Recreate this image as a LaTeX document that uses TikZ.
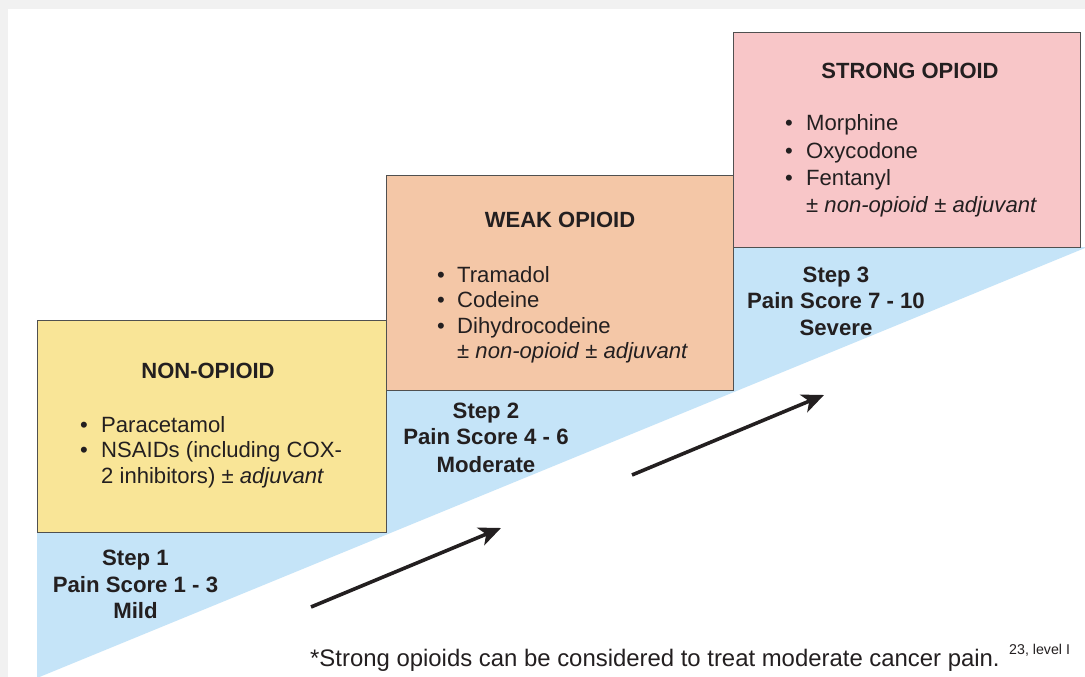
\documentclass[tikz,border=0pt]{standalone}
\usepackage{fontspec}
\setmainfont{Liberation Sans}
\usetikzlibrary{arrows.meta}
\definecolor{yelfill}{HTML}{F9E597}
\definecolor{peachfill}{HTML}{F4C7A7}
\definecolor{pinkfill}{HTML}{F8C6C8}
\definecolor{bluefill}{HTML}{C5E4F8}
\definecolor{boxline}{HTML}{505050}
\definecolor{txtc}{HTML}{231F20}
\definecolor{framegray}{HTML}{F1F1F1}
\begin{document}
\begin{tikzpicture}[x=1pt,y=-1pt,
  stepbox/.style={draw=boxline, line width=1.3pt, inner sep=0pt, anchor=north west},
  boxtitle/.style={font=\fontsize{22}{26}\selectfont\bfseries, text=txtc, inner sep=0pt, anchor=base},
  item/.style={font=\fontsize{22.1}{26}\selectfont, text=txtc, inner sep=0pt, anchor=base west},
  steplabel/.style={font=\fontsize{22.2}{26}\selectfont\bfseries, text=txtc, inner sep=0pt, anchor=base},
  bigarrow/.style={line width=3.6pt, txtc, -{Stealth[length=22pt,width=19pt,inset=6pt]}},
  note/.style={font=\fontsize{23.9}{28}\selectfont, text=txtc, inner sep=0pt, anchor=base west},
  supnote/.style={font=\fontsize{14.2}{16}\selectfont, text=txtc, inner sep=0pt, anchor=base west}
]
\useasboundingbox (0,0) rectangle (1085,677);
% screenshot frame
\fill[framegray] (0,0) rectangle (1085,677);
\fill[white] (8,9) rectangle (1085,677);
% blue staircase wedge
\fill[bluefill] (37,532) -- (37,678) -- (1085,248) -- (1085,247) -- (733,247) -- (733,390) -- (386,390) -- (386,532) -- cycle;
% boxes
\node[stepbox, fill=yelfill, minimum width=349pt, minimum height=212pt] (b1) at (37,320) {};
\node[stepbox, fill=peachfill, minimum width=347pt, minimum height=215pt] (b2) at (386,175) {};
\node[stepbox, fill=pinkfill, minimum width=347pt, minimum height=215pt] (b3) at (733,32) {};
% box 1 text
\node[boxtitle] (t1) at (208,378) {NON-OPIOID};
\node[item] (b1i1) at (80,432) {\makebox[21pt][l]{•}Paracetamol};
\node[item] (b1i2) at (80,457.5) {\makebox[21pt][l]{•}NSAIDs (including COX-};
\node[item] (b1i3) at (101,483) {2 inhibitors) ± \textit{adjuvant}};
% box 2 text
\node[boxtitle] (t2) at (560,227) {WEAK OPIOID};
\node[item] (b2i1) at (437,282) {\makebox[20pt][l]{•}Tramadol};
\node[item] (b2i2) at (437,307.5) {\makebox[20pt][l]{•}Codeine};
\node[item] (b2i3) at (437,333) {\makebox[20pt][l]{•}Dihydrocodeine};
\node[item] (b2i4) at (457,358.5) {± \textit{non-opioid} ± \textit{adjuvant}};
% box 3 text
\node[boxtitle] (t3) at (910,79) {STRONG OPIOID};
\node[item] (b3i1) at (785,131) {\makebox[21pt][l]{•}Morphine};
\node[item] (b3i2) at (785,158) {\makebox[21pt][l]{•}Oxycodone};
\node[item] (b3i3) at (785,185) {\makebox[21pt][l]{•}Fentanyl};
\node[item] (b3i4) at (806,212) {± \textit{non-opioid} ± \textit{adjuvant}};
% step labels
\node[steplabel] (s1a) at (135.5,565) {Step 1};
\node[steplabel] (s1b) at (135.5,592) {Pain Score 1 - 3};
\node[steplabel] (s1c) at (135.5,618) {Mild};
\node[steplabel] (s2a) at (486,418) {Step 2};
\node[steplabel] (s2b) at (486,444.5) {Pain Score 4 - 6};
\node[steplabel] (s2c) at (486,472) {Moderate};
\node[steplabel] (s3a) at (836,282) {Step 3};
\node[steplabel] (s3b) at (836,308.5) {Pain Score 7 - 10};
\node[steplabel] (s3c) at (836,335) {Severe};
% arrows
\coordinate (a1s) at (311,607);
\coordinate (a1e) at (501,528);
\coordinate (a2s) at (632,475);
\coordinate (a2e) at (824,395);
\draw[bigarrow] (a1s) -- (a1e);
\draw[bigarrow] (a2s) -- (a2e);
% footnote
\node[note] (fn) at (310,666.5) {*Strong opioids can be considered to treat moderate cancer pain.};
\node[supnote] (fnsup) at (1009,654) {23, level I};
\end{tikzpicture}
\end{document}
